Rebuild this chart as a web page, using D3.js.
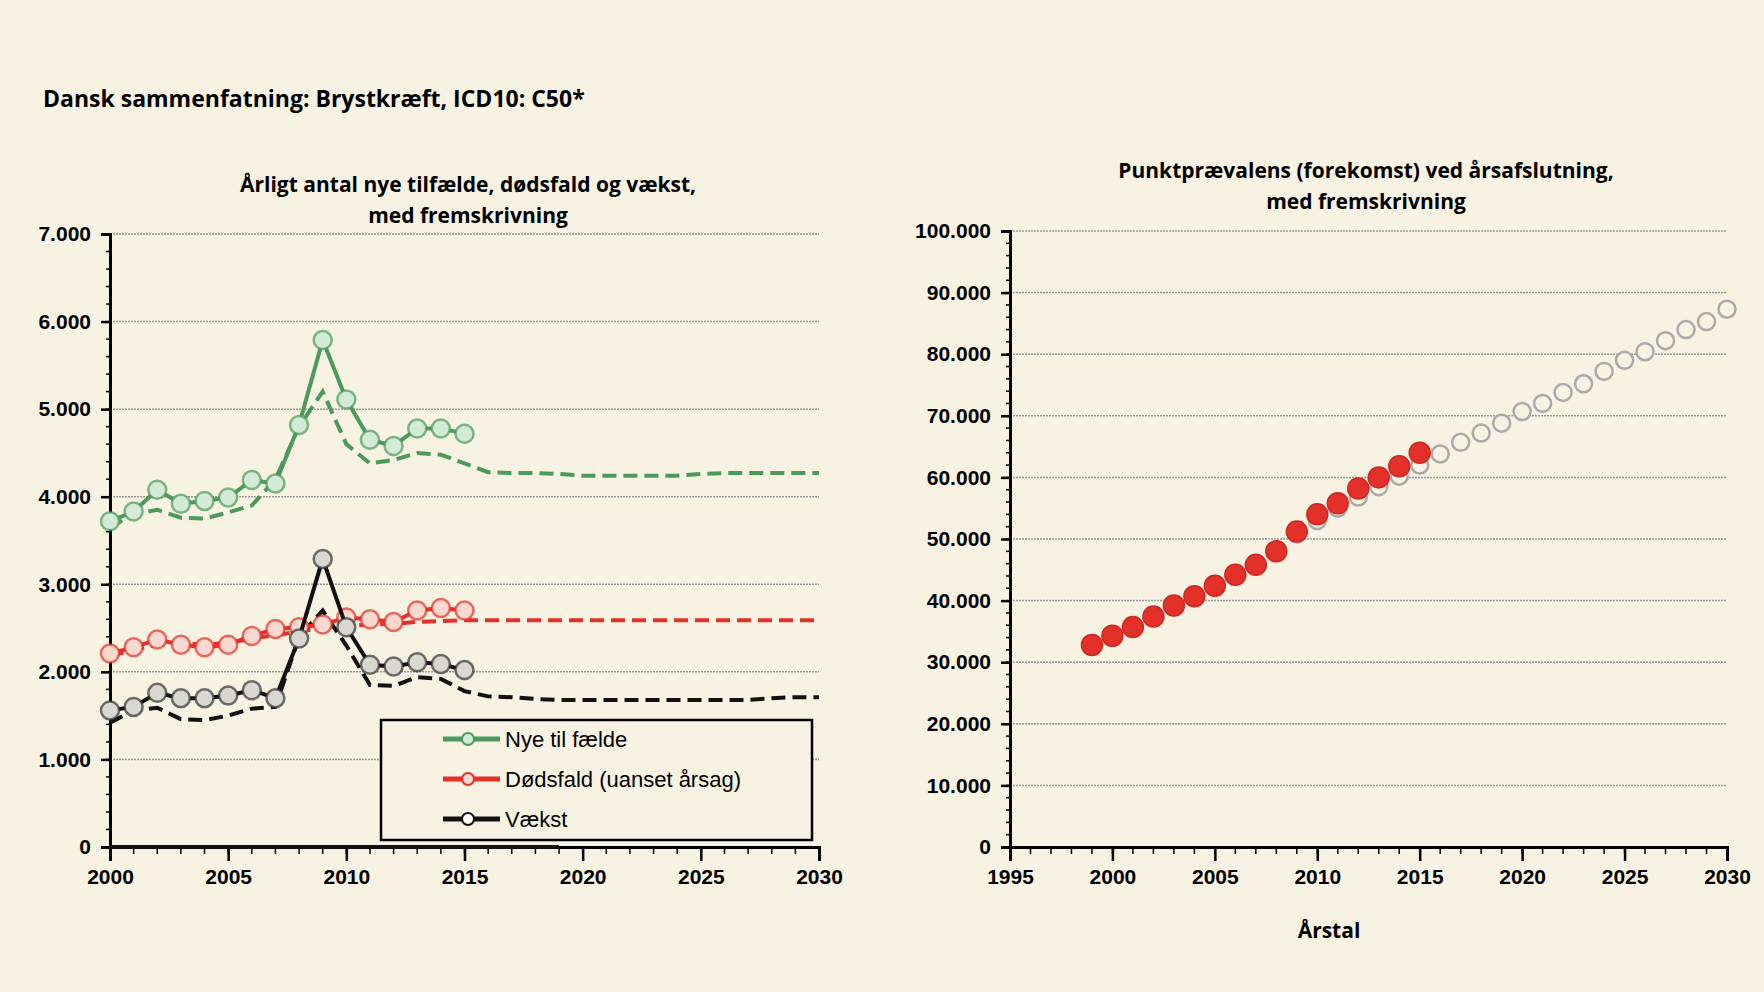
<!DOCTYPE html>
<html><head><meta charset="utf-8">
<script src="https://cdn.jsdelivr.net/npm/d3@7"></script>
<style>
body{margin:0;background:#f7f2e2;}
svg{font-family:"Open Sans","Liberation Sans",sans-serif;}
.tick text{font-weight:bold;font-size:21px;fill:#000;}
</style></head><body>
<svg width="1764" height="992"></svg>
<script>
// left chart data
const yearsObs = d3.range(2000, 2016);
const yearsAll = d3.range(2000, 2031);
const nyeObs = [3720,3830,4080,3920,3950,3990,4190,4150,4820,5790,5110,4650,4580,4780,4780,4720];
const nyeProj = [3650,3800,3850,3760,3750,3820,3900,4200,4800,5200,4600,4380,4420,4500,4480,4380,4280,4270,4270,4260,4240,4240,4240,4240,4240,4260,4270,4270,4270,4270,4270];
const dodObs = [2210,2280,2370,2310,2280,2310,2410,2490,2510,2540,2620,2600,2570,2700,2730,2700];
const dodProj = [2180,2250,2310,2330,2310,2330,2380,2420,2460,2500,2520,2540,2550,2570,2580,2590,2590,2590,2590,2590,2590,2590,2590,2590,2590,2590,2590,2590,2590,2590,2590];
const vaekstObs = [1560,1600,1760,1700,1700,1730,1790,1700,2380,3290,2510,2080,2060,2110,2090,2020];
const vaekstProj = [1420,1560,1590,1460,1450,1500,1580,1600,2400,2700,2300,1850,1840,1940,1920,1780,1720,1710,1690,1680,1680,1680,1680,1680,1680,1680,1680,1680,1700,1710,1710];
const zeroYears = [2000, 2019];
const leftTicks = [0,1000,2000,3000,4000,5000,6000,7000];
// right chart data
const prevYearsObs = d3.range(1999, 2016);
const prevObs = [32800,34300,35700,37400,39200,40700,42400,44200,45800,48000,51200,54000,55800,58200,60000,61800,64000];
const prevYearsProj = d3.range(1999, 2031);
const prevProj = [32600,34000,35500,37200,39000,40500,42200,44000,45600,47800,50800,53000,55000,56800,58500,60200,62000,
  63800,65700,67200,68800,70700,72000,73800,75200,77200,79000,80400,82200,84000,85300,87300];
const rightTicks = d3.range(0, 100001, 10000);

const fmt = v => d3.format(",")(v).replace(/,/g, ".");
const svg = d3.select("svg");
const GREEN = "#4b9a5c", RED = "#e3312a";

svg.append("text").attr("x", 43).attr("y", 107).attr("font-size", 23).attr("font-weight", "bold")
  .text("Dansk sammenfatning: Brystkræft, ICD10: C50*");

function frame(g, x, y, ticks, xTicks, minorX) {
  g.append("g").selectAll("line").data(ticks.slice(1)).join("line")
    .attr("x1", x.range()[0]).attr("x2", x.range()[1]).attr("y1", d => y(d)).attr("y2", d => y(d))
    .attr("stroke", "#999").attr("stroke-width", 1.5).attr("stroke-dasharray", "2,1");
  // minor y ticks
  const minor = d3.range(0, ticks[ticks.length-1], ticks[1] / 5);
  g.append("g").selectAll("line").data(minor).join("line")
    .attr("x1", x.range()[0] - 4).attr("x2", x.range()[0]).attr("y1", d => y(d)).attr("y2", d => y(d))
    .attr("stroke", "#000").attr("stroke-width", 1.5);
  g.append("g").attr("transform", `translate(${x.range()[0]},0)`)
    .call(d3.axisLeft(y).tickValues(ticks).tickFormat(fmt).tickSize(9).tickPadding(10))
    .call(a => a.select(".domain").attr("stroke-width", 3))
    .call(a => a.selectAll(".tick line").attr("stroke-width", 2.5));
  g.append("g").selectAll("line").data(minorX).join("line")
    .attr("x1", d => x(d)).attr("x2", d => x(d)).attr("y1", y(0)).attr("y2", y(0) + 7)
    .attr("stroke", "#000").attr("stroke-width", 1.5);
  g.append("g").attr("transform", `translate(0,${y(0)})`)
    .call(d3.axisBottom(x).tickValues(xTicks).tickFormat(d3.format("d")).tickSize(14).tickPadding(8))
    .call(a => a.select(".domain").attr("stroke-width", 3))
    .call(a => a.selectAll(".tick line").attr("stroke-width", 2.5));
}

// ---- left chart
const xL = d3.scaleLinear().domain([2000, 2030]).range([110, 819]);
const yL = d3.scaleLinear().domain([0, 7000]).range([847, 234]);
const gL = svg.append("g");
frame(gL, xL, yL, leftTicks, d3.range(2000, 2031, 5), yearsAll);
gL.append("text").attr("text-anchor", "middle").attr("font-weight", "bold").attr("font-size", 21)
  .selectAll("tspan").data(["Årligt antal  nye tilfælde, dødsfald og vækst,", "med fremskrivning"]).join("tspan")
  .attr("x", 468).attr("y", (d, i) => 192 + i * 31).text(d => d);

const lineL = (ys, xs) => d3.line().x((d, i) => xL(xs[i])).y(d => yL(d))(ys);
const seriesL = [
  {obs: nyeObs, proj: nyeProj, c: GREEN, fill: "#d3ead6"},
  {obs: dodObs, proj: dodProj, c: RED, fill: "#f8d8cf"},
  {obs: vaekstObs, proj: vaekstProj, c: "#111", fill: "#d8d8d0"}
];
seriesL.forEach(s => {
  gL.append("path").attr("d", lineL(s.proj, yearsAll)).attr("fill", "none").attr("stroke", s.c)
    .attr("stroke-width", 4).attr("stroke-dasharray", "14,7");
});
gL.append("path").attr("d", lineL([0, 0], zeroYears)).attr("stroke", "#111").attr("stroke-width", 4);
seriesL.forEach(s => {
  gL.append("path").attr("d", lineL(s.obs, yearsObs)).attr("fill", "none").attr("stroke", s.c).attr("stroke-width", 4);
  gL.append("g").selectAll("circle").data(s.obs).join("circle")
    .attr("cx", (d, i) => xL(yearsObs[i])).attr("cy", d => yL(d)).attr("r", 9)
    .attr("fill", s.fill).attr("stroke", s.c === "#111" ? "#333" : s.c).attr("stroke-opacity", 0.7).attr("stroke-width", 2.5);
});
// legend
const leg = gL.append("g");
leg.append("rect").attr("x", 381).attr("y", 720).attr("width", 431).attr("height", 120)
  .attr("fill", "#f7f2e2").attr("stroke", "#000").attr("stroke-width", 2.5);
[["Nye til fælde", GREEN, "#d3ead6"], ["Dødsfald (uanset årsag)", RED, "#f8d8cf"], ["Vækst", "#111", "#fff"]].forEach((l, i) => {
  const cy = 739 + i * 40;
  leg.append("line").attr("x1", 443).attr("x2", 500).attr("y1", cy).attr("y2", cy).attr("stroke", l[1]).attr("stroke-width", 5);
  leg.append("circle").attr("cx", 468).attr("cy", cy).attr("r", 6).attr("fill", l[2]).attr("stroke", l[1]).attr("stroke-width", 2);
  leg.append("text").attr("x", 505).attr("y", cy + 8).attr("font-size", 22).attr("font-family", "Liberation Sans, sans-serif").text(l[0]);
});

// ---- right chart
const xR = d3.scaleLinear().domain([1995, 2030]).range([1010, 1727]);
const yR = d3.scaleLinear().domain([0, 100000]).range([847, 231]);
const gR = svg.append("g");
frame(gR, xR, yR, rightTicks, d3.range(1995, 2031, 5), d3.range(1995, 2031));
gR.append("text").attr("text-anchor", "middle").attr("font-weight", "bold").attr("font-size", 21)
  .selectAll("tspan").data(["Punktprævalens (forekomst) ved årsafslutning,", "med fremskrivning"]).join("tspan")
  .attr("x", 1366).attr("y", (d, i) => 178 + i * 31).text(d => d);
gR.append("text").attr("x", 1329).attr("y", 938).attr("text-anchor", "middle").attr("font-weight", "bold").attr("font-size", 21).text("Årstal");
gR.append("g").selectAll("circle").data(prevProj).join("circle")
  .attr("cx", (d, i) => xR(prevYearsProj[i])).attr("cy", d => yR(d)).attr("r", 8.5)
  .attr("fill", "#f7f2e2").attr("stroke", "#aaa").attr("stroke-width", 2.5);
gR.append("g").selectAll("circle").data(prevObs).join("circle")
  .attr("cx", (d, i) => xR(prevYearsObs[i])).attr("cy", d => yR(d)).attr("r", 10.5)
  .attr("fill", RED).attr("stroke", "#c92a22").attr("stroke-width", 1.5);
</script>
</body></html>
